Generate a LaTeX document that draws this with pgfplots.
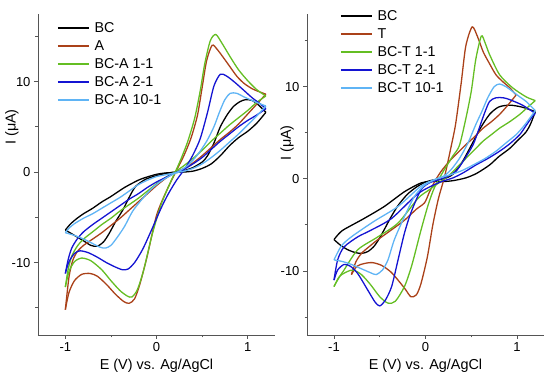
\documentclass[border=0pt]{standalone}
\usepackage{fontspec}
\setmainfont{Liberation Sans}
\usepackage{pgfplots}
\pgfplotsset{compat=1.18}
\definecolor{cvbrown}{RGB}{170,65,25}
\definecolor{cvgreen}{RGB}{100,190,35}
\definecolor{cvblue}{RGB}{20,20,210}
\definecolor{cvlblue}{RGB}{95,180,245}
\definecolor{axgray}{RGB}{85,85,85}
\pgfplotsset{cvax/.style={
  scale only axis, width=237pt, height=321pt,
  axis lines*=left, axis line style={axgray, line width=0.9pt},
  tick align=outside, tick style={axgray, line width=0.8pt},
  major tick length=4pt, minor tick length=2.5pt,
  xtick={-1,0,1}, xticklabels={-1,0,1}, minor xtick={-0.5,0.5},
  ytick={-10,0,10}, yticklabels={-10,0,10}, minor ytick={-15,-5,5,15},
  tick label style={font=\fontsize{13}{15}\selectfont},
  label style={font=\fontsize{14.4}{17}\selectfont},
  xlabel={E (V) vs. Ag/AgCl}, ylabel={I (μA)},
  xlabel style={at={(axis description cs:0.5,-0.097)}, anchor=center},
  legend style={draw=none, fill=none, inner sep=0pt, font=\fontsize{14.3}{16}\selectfont,
    nodes={inner sep=0pt, text height=10pt, text depth=2pt}, anchor=north west,
    row sep=6pt, column sep=5pt},
  legend cell align=left,
  legend image code/.code={\draw[#1, line width=1.4pt] (0pt,0pt) -- (31pt,0pt);},
  every axis plot/.append style={line width=1.3pt, smooth, tension=0.45},
}}
\begin{document}
\begin{tikzpicture}
\useasboundingbox (0,0) rectangle (550pt,380pt);
\begin{axis}[cvax, at={(38pt,45pt)}, anchor=south west,
  xmin=-1.3, xmax=1.3, ymin=-18, ymax=17.46,
  ylabel style={at={(axis description cs:-0.11,0.648)}, anchor=center, rotate=0},
  legend style={at={(axis description cs:0.08,0.9755)}}]
\addplot[black] coordinates {(-1,-6.4) (-0.9,-7.0) (-0.8,-7.6) (-0.72,-8.1) (-0.65,-8.2) (-0.58,-7.7) (-0.52,-6.8) (-0.45,-5.5) (-0.37,-4.2) (-0.3,-2.8) (-0.23,-1.6) (-0.12,-0.8) (0,-0.4) (0.1,-0.15) (0.2,0) (0.3,0.15) (0.4,0.5) (0.5,1.1) (0.56,1.8) (0.63,3.2) (0.7,5.0) (0.78,6.4) (0.85,7.3) (0.92,7.8) (0.98,8.0) (1.05,7.9) (1.12,7.4) (1.2,6.6)};
\addlegendentry{BC}
\addplot[black, forget plot] coordinates {(1.2,6.6) (1.1,5.4) (1.0,4.5) (0.9,3.8) (0.8,2.9) (0.7,1.8) (0.6,0.9) (0.5,0.4) (0.4,0.1) (0.3,0) (0.2,-0.05) (0.1,-0.1) (0,-0.25) (-0.12,-0.6) (-0.2,-0.9) (-0.35,-1.7) (-0.5,-2.7) (-0.6,-3.3) (-0.7,-4.0) (-0.8,-4.6) (-0.87,-5.1) (-0.94,-5.7) (-1,-6.4)};
\addplot[cvbrown] coordinates {(-1,-15.2) (-0.96,-13.3) (-0.9,-12.0) (-0.82,-11.3) (-0.73,-11.2) (-0.65,-11.5) (-0.55,-12.4) (-0.45,-13.5) (-0.36,-14.3) (-0.3,-14.5) (-0.24,-14.0) (-0.18,-12.3) (-0.1,-9.2) (0,-4.8) (0.1,-2.3) (0.2,-0.2) (0.3,1.8) (0.38,3.8) (0.45,6.3) (0.5,9.3) (0.55,12.3) (0.61,14.0) (0.67,13.5) (0.78,12.0) (0.88,10.6) (0.96,9.8) (1.05,9.2) (1.12,8.9) (1.2,8.6)};
\addlegendentry{A}
\addplot[cvbrown, forget plot] coordinates {(1.2,8.6) (1.1,7.5) (1.0,6.4) (0.9,5.3) (0.8,4.4) (0.7,3.6) (0.6,2.7) (0.5,1.8) (0.4,1.0) (0.3,0.4) (0.2,-0.1) (0.1,-0.7) (0,-1.5) (-0.1,-2.4) (-0.2,-3.3) (-0.3,-4.2) (-0.4,-5.1) (-0.5,-5.9) (-0.6,-6.7) (-0.7,-7.4) (-0.8,-8.1) (-0.87,-8.8) (-0.92,-9.8) (-0.96,-11.6) (-1,-15.2)};
\addplot[cvgreen] coordinates {(-1,-12.7) (-0.96,-11.0) (-0.9,-9.9) (-0.82,-9.5) (-0.72,-9.8) (-0.6,-10.8) (-0.5,-12.0) (-0.4,-13.1) (-0.32,-13.7) (-0.27,-13.8) (-0.21,-13.0) (-0.14,-10.8) (-0.05,-7.0) (0.05,-3.6) (0.15,-1.2) (0.25,1.0) (0.34,3.3) (0.42,6.0) (0.48,9.0) (0.53,12.0) (0.59,14.5) (0.65,15.2) (0.72,14.2) (0.81,12.7) (0.9,11.3) (1.0,10.1) (1.1,9.1) (1.2,8.4)};
\addlegendentry{BC-A 1-1}
\addplot[cvgreen, forget plot] coordinates {(1.2,8.4) (1.1,7.7) (1.0,6.8) (0.9,6.0) (0.8,5.2) (0.7,4.3) (0.6,3.4) (0.5,2.4) (0.4,1.5) (0.3,0.7) (0.2,0) (0.1,-0.6) (0,-1.3) (-0.1,-2.1) (-0.2,-2.9) (-0.3,-3.6) (-0.4,-4.3) (-0.5,-5.1) (-0.6,-5.8) (-0.7,-6.6) (-0.8,-7.4) (-0.87,-8.2) (-0.93,-9.3) (-0.97,-10.8) (-1,-12.7)};
\addplot[cvblue] coordinates {(-1,-11.2) (-0.96,-9.9) (-0.9,-9.0) (-0.84,-8.7) (-0.75,-8.9) (-0.65,-9.4) (-0.55,-10.0) (-0.45,-10.5) (-0.37,-10.8) (-0.31,-10.7) (-0.24,-10.0) (-0.15,-8.5) (-0.05,-6.3) (0.05,-4.0) (0.13,-2.4) (0.22,-0.9) (0.32,0.5) (0.4,1.9) (0.48,3.7) (0.56,6.6) (0.63,9.5) (0.7,10.8) (0.77,10.6) (0.86,9.9) (0.95,9.1) (1.05,8.2) (1.13,7.6) (1.2,7.0)};
\addlegendentry{BC-A 2-1}
\addplot[cvblue, forget plot] coordinates {(1.2,7.0) (1.1,6.3) (1.0,5.7) (0.9,5.0) (0.8,4.2) (0.7,3.4) (0.6,2.5) (0.5,1.6) (0.4,0.9) (0.3,0.3) (0.2,-0.1) (0.1,-0.6) (0,-1.1) (-0.1,-1.7) (-0.2,-2.4) (-0.3,-3.0) (-0.4,-3.7) (-0.5,-4.4) (-0.6,-5.1) (-0.7,-5.8) (-0.8,-6.6) (-0.87,-7.4) (-0.93,-8.4) (-0.97,-9.7) (-1,-11.2)};
\addplot[cvlblue] coordinates {(-1,-6.7) (-0.9,-7.0) (-0.8,-7.4) (-0.7,-7.9) (-0.62,-8.3) (-0.56,-8.4) (-0.5,-8.1) (-0.43,-7.2) (-0.35,-6.0) (-0.26,-4.3) (-0.15,-2.9) (-0.05,-1.8) (0.05,-1.0) (0.15,-0.4) (0.25,0.1) (0.35,0.8) (0.45,1.9) (0.55,3.4) (0.63,5.0) (0.69,6.6) (0.75,8.0) (0.81,8.7) (0.88,8.7) (0.96,8.3) (1.05,7.9) (1.12,7.6) (1.2,7.3)};
\addlegendentry{BC-A 10-1}
\addplot[cvlblue, forget plot] coordinates {(1.2,7.3) (1.1,6.2) (1.0,5.2) (0.9,4.2) (0.8,3.3) (0.7,2.4) (0.6,1.6) (0.5,0.9) (0.4,0.4) (0.3,0.1) (0.2,-0.1) (0.1,-0.3) (0,-0.5) (-0.1,-0.9) (-0.2,-1.4) (-0.3,-2.1) (-0.4,-2.8) (-0.5,-3.4) (-0.6,-4.0) (-0.7,-4.6) (-0.8,-5.1) (-0.9,-5.7) (-0.96,-6.2) (-1,-6.7)};
\node[font=\fontsize{19}{22}\selectfont] at (axis description cs:-0.084,0.96) {(a)};
\end{axis}
\begin{axis}[cvax, at={(307pt,45pt)}, anchor=south west,
  xmin=-1.295, xmax=1.295, ymin=-16.96, ymax=17.9,
  ylabel style={at={(axis description cs:-0.084,0.598)}, anchor=center, rotate=0},
  legend style={at={(axis description cs:0.139,1.0129)}}]
\addplot[black] coordinates {(-1,-6.6) (-0.93,-7.2) (-0.85,-7.7) (-0.77,-8.0) (-0.7,-8.1) (-0.63,-7.9) (-0.56,-7.3) (-0.5,-6.4) (-0.45,-5.5) (-0.38,-4.2) (-0.3,-2.9) (-0.2,-1.7) (-0.1,-0.9) (0,-0.35) (0.1,-0.1) (0.2,0) (0.3,0.5) (0.4,1.8) (0.52,4.0) (0.6,5.5) (0.7,7.0) (0.8,7.8) (0.92,8.0) (1.05,7.8) (1.2,7.3)};
\addlegendentry{BC}
\addplot[black, forget plot] coordinates {(1.2,7.3) (1.15,6.0) (1.1,5.1) (1.0,4.1) (0.92,3.3) (0.8,2.4) (0.7,1.5) (0.56,0.6) (0.44,0.1) (0.3,-0.2) (0.19,-0.3) (0.05,-0.3) (-0.05,-0.45) (-0.23,-1.4) (-0.45,-3.0) (-0.67,-4.3) (-0.89,-5.5) (-0.95,-6.0) (-1,-6.6)};
\addplot[cvbrown] coordinates {(-0.81,-10.4) (-0.75,-9.5) (-0.67,-9.2) (-0.58,-9.1) (-0.48,-9.4) (-0.38,-10.1) (-0.3,-11.0) (-0.22,-12.0) (-0.16,-12.8) (-0.1,-12.6) (-0.05,-11.4) (0.02,-8.5) (0.08,-5.0) (0.14,-2.2) (0.21,0.3) (0.28,3.5) (0.33,6.0) (0.39,10.4) (0.44,14.4) (0.51,16.5) (0.57,15.4) (0.63,13.8) (0.7,12.5) (0.77,11.3) (0.85,10.5) (0.92,9.9) (0.99,9.1)};
\addlegendentry{T}
\addplot[cvbrown, forget plot] coordinates {(0.99,9.1) (0.9,8.0) (0.81,7.0) (0.72,6.2) (0.63,5.5) (0.54,4.6) (0.44,3.7) (0.35,2.8) (0.26,1.9) (0.17,0.8) (0.1,-0.3) (0.04,-1.5) (-0.01,-2.6) (-0.1,-3.3) (-0.23,-4.5) (-0.38,-5.6) (-0.52,-6.6) (-0.62,-7.4) (-0.7,-8.1) (-0.76,-9.0) (-0.81,-10.4)};
\addplot[cvgreen] coordinates {(-1,-11.7) (-0.94,-10.6) (-0.86,-10.1) (-0.79,-9.9) (-0.7,-10.4) (-0.6,-11.5) (-0.5,-12.8) (-0.41,-13.5) (-0.33,-13.3) (-0.23,-11.7) (-0.15,-9.4) (-0.05,-5.6) (0.03,-2.8) (0.1,-0.9) (0.2,0.9) (0.3,2.5) (0.37,3.6) (0.44,6.5) (0.5,9.5) (0.55,13.0) (0.61,15.5) (0.65,14.8) (0.7,13.5) (0.81,11.3) (0.95,9.9) (1.1,8.9) (1.2,8.5)};
\addlegendentry{BC-T 1-1}
\addplot[cvgreen, forget plot] coordinates {(1.2,8.5) (1.12,7.8) (1.03,7.0) (0.92,6.2) (0.81,5.5) (0.72,4.8) (0.63,4.1) (0.54,3.2) (0.44,2.2) (0.35,1.3) (0.26,0.4) (0.15,-0.4) (0.04,-1.2) (-0.08,-2.1) (-0.3,-4.8) (-0.52,-6.3) (-0.74,-7.7) (-0.89,-9.9) (-0.95,-10.8) (-1,-11.7)};
\addplot[cvblue] coordinates {(-1,-11.0) (-0.96,-9.9) (-0.89,-9.3) (-0.82,-9.5) (-0.74,-10.3) (-0.63,-12.1) (-0.55,-13.4) (-0.5,-13.8) (-0.44,-13.2) (-0.37,-11.7) (-0.3,-8.8) (-0.23,-5.9) (-0.16,-3.7) (-0.05,-1.2) (0.05,-0.4) (0.15,-0.1) (0.25,0.3) (0.34,0.9) (0.43,2.2) (0.52,3.7) (0.58,5.3) (0.64,7.0) (0.7,8.4) (0.77,8.8) (0.85,8.8) (0.92,8.6) (1.06,8.0) (1.2,7.1)};
\addlegendentry{BC-T 2-1}
\addplot[cvblue, forget plot] coordinates {(1.2,7.1) (1.17,6.8) (1.1,5.8) (1.03,4.8) (0.92,3.8) (0.81,3.0) (0.68,2.2) (0.55,1.5) (0.42,0.7) (0.3,0.1) (0.15,-0.4) (-0.08,-1.6) (-0.37,-4.3) (-0.6,-5.6) (-0.74,-6.3) (-0.89,-7.4) (-0.96,-8.8) (-1,-11.0)};
\addplot[cvlblue] coordinates {(-1,-8.8) (-0.9,-9.0) (-0.81,-9.3) (-0.67,-9.9) (-0.6,-10.2) (-0.54,-10.4) (-0.47,-9.9) (-0.41,-8.8) (-0.34,-6.6) (-0.23,-4.1) (-0.12,-1.9) (-0.01,-0.7) (0.1,-0.1) (0.2,0.3) (0.28,1.0) (0.37,2.2) (0.46,3.8) (0.55,5.9) (0.62,7.4) (0.68,8.8) (0.75,10.0) (0.81,10.3) (0.88,10.0) (0.95,9.5) (1.03,8.9) (1.1,8.4) (1.2,7.4)};
\addlegendentry{BC-T 10-1}
\addplot[cvlblue, forget plot] coordinates {(1.2,7.4) (1.17,7.0) (1.08,5.8) (0.99,4.8) (0.88,3.9) (0.77,3.0) (0.65,2.2) (0.52,1.5) (0.4,0.9) (0.26,0.4) (0.12,0) (-0.05,-0.8) (-0.3,-3.0) (-0.56,-4.6) (-0.81,-6.3) (-0.92,-7.3) (-1,-8.8)};
\node[font=\fontsize{19}{22}\selectfont] at (axis description cs:-0.072,0.956) {(b)};
\end{axis}
\end{tikzpicture}
\end{document}
